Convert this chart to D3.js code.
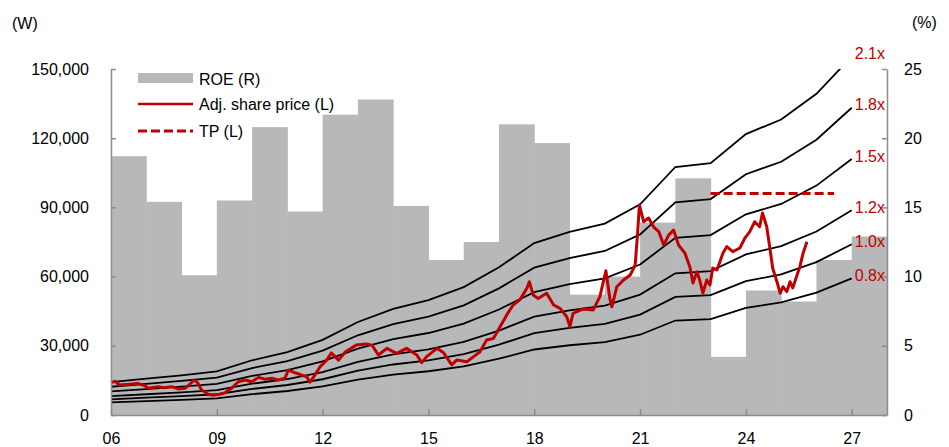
<!DOCTYPE html>
<html>
<head>
<meta charset="utf-8">
<script src="https://cdn.jsdelivr.net/npm/d3@7"></script>
<style>
  body { margin: 0; background: #fff; }
  text { font-family: "Liberation Sans", Arial, sans-serif; font-size: 16px; fill: #000; }
  .axis path, .axis line { stroke: #8c8c8c; stroke-width: 1.5; }
</style>
</head>
<body>
<svg id="chart" width="949" height="447"></svg>
<script>
// annual ROE (%), right axis, one bar per year
const roeYears = d3.range(2006, 2028);
const roe = [18.7, 15.4, 10.1, 15.5, 20.8, 14.7, 21.7, 22.8, 15.1, 11.2, 12.5,
             21.0, 19.65, 8.7, 10.0, 13.9, 17.1, 4.2, 9.0, 8.2, 11.2, 12.9];

// book value per share (W) at the start of each year, for the PBR bands
const bpsYears = d3.range(2006, 2028);
const bps = [6800, 7500, 8200, 9000, 11300, 13000, 15500, 19200, 21900, 23700, 26400,
             30500, 35500, 37800, 39500, 43500, 51200, 52000, 58000, 61000, 66300, 74000];
const multiples = [0.8, 1.0, 1.2, 1.5, 1.8, 2.1];

// adjusted share price (W): [year, price]
const price = [
  [2006.00, 14000], [2006.11, 14600], [2006.25, 13000], [2006.50, 13300], [2006.75, 13700],
  [2006.95, 12800], [2007.05, 11600], [2007.33, 12300], [2007.50, 11800], [2007.72, 12300],
  [2007.90, 11300], [2008.10, 11600], [2008.25, 13500], [2008.35, 15200], [2008.45, 14200],
  [2008.57, 10800], [2008.76, 9000], [2008.90, 8600], [2009.09, 9000], [2009.23, 9600],
  [2009.42, 11600], [2009.61, 14400], [2009.80, 15200], [2009.99, 14400], [2010.18, 16300],
  [2010.37, 15500], [2010.56, 15900], [2010.74, 15200], [2010.93, 15900], [2011.03, 19500],
  [2011.22, 18300], [2011.41, 17300], [2011.55, 16600], [2011.64, 14200], [2011.78, 17300],
  [2011.93, 21000], [2012.10, 23500], [2012.25, 26900], [2012.45, 23800], [2012.65, 27400],
  [2012.95, 30300], [2013.23, 30800], [2013.40, 30300], [2013.58, 26000], [2013.82, 28900],
  [2014.10, 26700], [2014.38, 28900], [2014.67, 26000], [2014.81, 22700], [2014.95, 25300],
  [2015.24, 28900], [2015.43, 27000], [2015.66, 21700], [2015.80, 23800], [2016.09, 23100],
  [2016.28, 25300], [2016.46, 27400], [2016.65, 32500], [2016.84, 33200], [2017.03, 38300],
  [2017.22, 43400], [2017.40, 47700], [2017.59, 49900], [2017.79, 54900], [2017.86, 57800],
  [2017.97, 52000], [2018.11, 50500], [2018.35, 52800], [2018.55, 47700], [2018.73, 46200],
  [2018.92, 42600], [2019.01, 38300], [2019.10, 44100], [2019.39, 46000], [2019.67, 45500],
  [2019.86, 51300], [2020.03, 62500], [2020.15, 50000], [2020.20, 46900], [2020.34, 55600],
  [2020.53, 58500], [2020.72, 60700], [2020.86, 65000], [2020.93, 78800], [2020.98, 91000],
  [2021.10, 83800], [2021.24, 85400], [2021.38, 81600], [2021.53, 79500], [2021.67, 73700],
  [2021.81, 78000], [2021.95, 80200], [2022.09, 73700], [2022.27, 70200], [2022.41, 64300],
  [2022.50, 57200], [2022.61, 62100], [2022.69, 58500], [2022.78, 52900], [2022.89, 58500],
  [2022.98, 56400], [2023.06, 63700], [2023.18, 62900], [2023.35, 70200], [2023.46, 73000],
  [2023.63, 70800], [2023.83, 72400], [2023.97, 76700], [2024.11, 79500], [2024.25, 83800],
  [2024.39, 81600], [2024.47, 87600], [2024.59, 81600], [2024.68, 72300], [2024.76, 63600],
  [2024.88, 57800], [2024.97, 52800], [2025.05, 55600], [2025.16, 53500], [2025.25, 57800],
  [2025.33, 55100], [2025.45, 60700], [2025.53, 64300], [2025.62, 70100], [2025.73, 75100]
];

// target price (W)
const tpYears = [2023.0, 2026.5];
const tpValue = 96000;

const leftTicks = [0, 30000, 60000, 90000, 120000, 150000];
const rightTicks = [0, 5, 10, 15, 20, 25];
const xTicks = [2006, 2009, 2012, 2015, 2018, 2021, 2024, 2027];

const svg = d3.select("#chart");
const margins = {top: 69, right: 62, bottom: 32, left: 111};
const width = +svg.attr("width"), height = +svg.attr("height");

const x = d3.scaleLinear().domain([2006, 2028]).range([margins.left, width - margins.right]);
const yL = d3.scaleLinear().domain([0, 150000]).range([height - margins.bottom, margins.top]);
const yR = d3.scaleLinear().domain([0, 25]).range([height - margins.bottom, margins.top]);

svg.append("clipPath").attr("id", "plot")
   .append("rect")
   .attr("x", x(2006)).attr("y", yL(150000))
   .attr("width", x(2028) - x(2006)).attr("height", yL(0) - yL(150000));

// ROE bars
svg.append("g").selectAll("rect")
   .data(roe)
   .join("rect")
   .attr("x", (d, i) => x(roeYears[i]))
   .attr("width", (d, i) => x(roeYears[i] + 1) - x(roeYears[i]) + 0.5)
   .attr("y", d => yR(d))
   .attr("height", d => yR(0) - yR(d))
   .attr("fill", "#b7b8ba");

// PBR bands
const bandLine = d3.line().x(d => x(d[0])).y(d => yL(d[1]));
const bands = svg.append("g").attr("clip-path", "url(#plot)");
multiples.forEach(m => {
  bands.append("path")
       .datum(bpsYears.map((yr, i) => [yr, bps[i] * m]))
       .attr("d", bandLine)
       .attr("fill", "none")
       .attr("stroke", "#000")
       .attr("stroke-width", 1.8);
});

// share price
svg.append("path")
   .datum(price)
   .attr("d", bandLine)
   .attr("fill", "none")
   .attr("stroke", "#c00000")
   .attr("stroke-width", 3)
   .attr("stroke-linejoin", "round");

// target price
svg.append("line")
   .attr("x1", x(tpYears[0])).attr("x2", x(tpYears[1]))
   .attr("y1", yL(tpValue)).attr("y2", yL(tpValue))
   .attr("stroke", "#c00000")
   .attr("stroke-width", 3)
   .attr("stroke-dasharray", "9,4");

// band labels
const lastBps = bps[bps.length - 1];
svg.append("g").selectAll("text")
   .data(multiples)
   .join("text")
   .attr("x", x(2028) - 2)
   .attr("y", m => yL(lastBps * m) - 3)
   .attr("dy", "0.35em")
   .attr("text-anchor", "end")
   .style("fill", "#c00000")
   .text(m => m.toFixed(1) + "x");

// axes
svg.append("g").attr("class", "axis")
   .attr("transform", `translate(${margins.left},0)`)
   .call(d3.axisLeft(yL).tickValues(leftTicks).tickSize(-5).tickSizeOuter(0)
           .tickPadding(22).tickFormat(d3.format(",")));
svg.append("g").attr("class", "axis")
   .attr("transform", `translate(${width - margins.right},0)`)
   .call(d3.axisRight(yR).tickValues(rightTicks).tickSize(-5).tickSizeOuter(0).tickPadding(17));
svg.append("g").attr("class", "axis")
   .attr("transform", `translate(0,${height - margins.bottom})`)
   .call(d3.axisBottom(x).tickValues(xTicks).tickSize(-6).tickSizeOuter(0)
           .tickPadding(18).tickFormat(d => String(d).slice(2)));
svg.selectAll(".axis text").style("font-size", "16px").style("fill", "#000");

// unit labels
svg.append("text").attr("x", 12).attr("y", 29).text("(W)");
svg.append("text").attr("x", 912).attr("y", 28).text("(%)");

// legend
const legend = svg.append("g");
legend.append("rect").attr("x", 138).attr("y", 73).attr("width", 55).attr("height", 10).attr("fill", "#b7b8ba");
legend.append("line").attr("x1", 138).attr("x2", 193).attr("y1", 104).attr("y2", 104)
      .attr("stroke", "#c00000").attr("stroke-width", 2.5);
legend.append("line").attr("x1", 138).attr("x2", 193).attr("y1", 131).attr("y2", 131)
      .attr("stroke", "#c00000").attr("stroke-width", 3).attr("stroke-dasharray", "9,4");
legend.selectAll("text")
      .data([["ROE (R)", 79], ["Adj. share price (L)", 104], ["TP (L)", 131]])
      .join("text")
      .attr("x", 199).attr("y", d => d[1]).attr("dy", "0.35em")
      .text(d => d[0]);
</script>
</body>
</html>
